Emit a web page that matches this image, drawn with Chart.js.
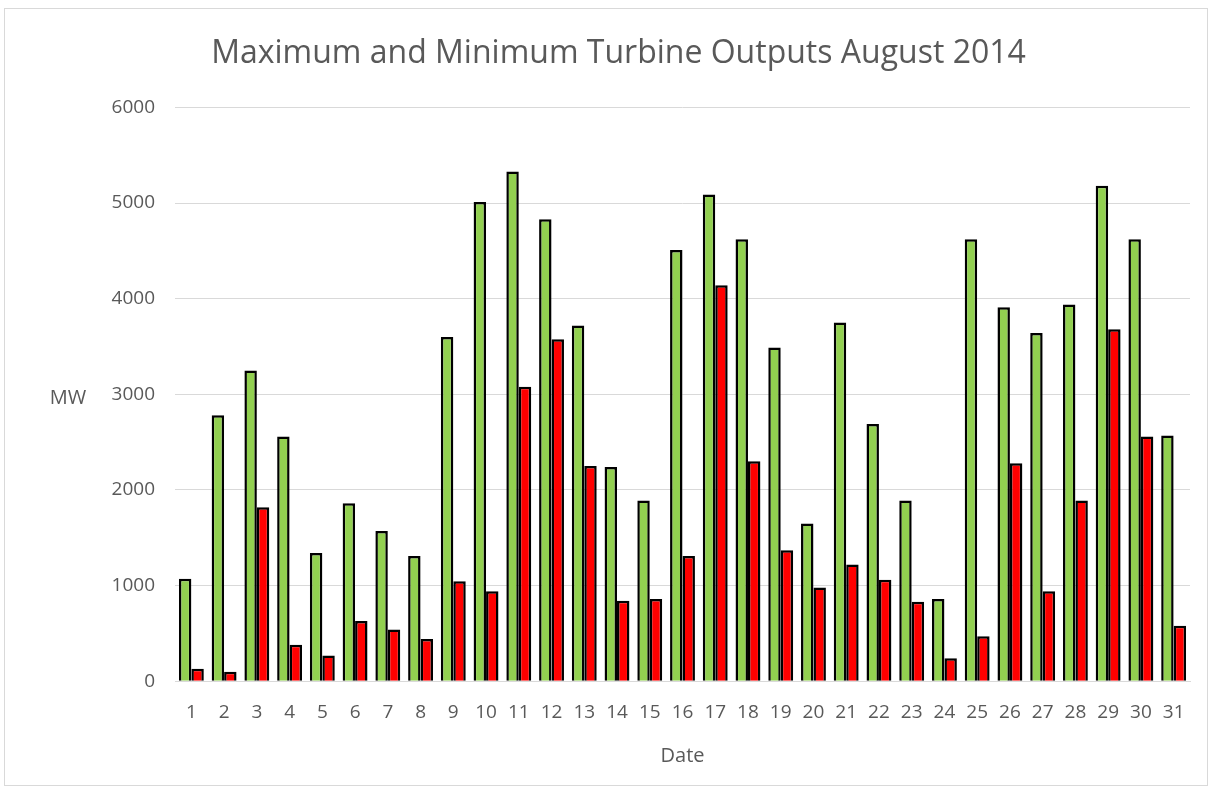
<!DOCTYPE html>
<html>
<head>
<meta charset="utf-8">
<script src="https://cdn.jsdelivr.net/npm/chart.js@4"></script>
<style>
  html, body { margin: 0; padding: 0; background: #fff; }
  #wrap { position: absolute; left: 4px; top: 8px; width: 1204px; height: 778px; border: 1px solid #d9d9d9; box-sizing: border-box; }
  canvas { position: absolute; left: -4px; top: -8px; }
</style>
</head>
<body>
<div id="wrap"><canvas id="chart" width="1213" height="791"></canvas></div>
<script>
const days = Array.from({ length: 31 }, (_, i) => String(i + 1));
const maxOutput = [1070, 2780, 3250, 2560, 1340, 1860, 1570, 1310, 3600, 5010,
                   5330, 4830, 3720, 2240, 1890, 4510, 5090, 4620, 3490, 1650,
                   3750, 2690, 1890, 860, 4620, 3910, 3640, 3940, 5180, 4620, 2570];
const minOutput = [130, 100, 1820, 380, 270, 630, 540, 440, 1045, 940,
                   3080, 3575, 2250, 840, 860, 1310, 4140, 2300, 1370, 980,
                   1220, 1060, 830, 240, 470, 2280, 940, 1890, 3680, 2560, 580];
const yTicks = [0, 1000, 2000, 3000, 4000, 5000, 6000];

const font = "'Open Sans', 'Noto Sans', sans-serif";
const grey = '#595959';

const mwLabel = {
  id: 'mwLabel',
  afterDraw(chart) {
    const { ctx } = chart;
    ctx.save();
    ctx.fillStyle = grey;
    ctx.font = `20px ${font}`;
    ctx.textAlign = 'center';
    ctx.textBaseline = 'middle';
    ctx.fillText('MW', 67, chart.scales.y.getPixelForValue(3000) + 4);
    ctx.restore();
  }
};

// the reference title sits a little right of the canvas centre
const titleShift = {
  id: 'titleShift',
  beforeDraw(chart) { chart.titleBlock.left = 22; chart.titleBlock.right = chart.width; }
};

new Chart(document.getElementById('chart'), {
  type: 'bar',
  data: {
    labels: days,
    datasets: [
      { label: 'Max', data: maxOutput, backgroundColor: '#92D050', borderColor: '#000', borderWidth: 2.5, borderSkipped: 'bottom' },
      { label: 'Min', data: minOutput, backgroundColor: '#FF0000', borderColor: '#000', borderWidth: 2.5, borderSkipped: 'bottom' }
    ]
  },
  options: {
    responsive: false,
    animation: false,
    categoryPercentage: 0.76,
    barPercentage: 1.0,
    layout: { padding: { left: 0, right: 24, top: 0, bottom: 20 } },
    plugins: {
      legend: { display: false },
      tooltip: { enabled: false },
      title: {
        display: true,
        text: 'Maximum and Minimum Turbine Outputs August 2014',
        color: grey,
        font: { family: font, size: 32, weight: 'normal' },
        padding: { top: 34, bottom: 34 }
      }
    },
    scales: {
      x: {
        grid: { display: false },
        border: { display: true, color: '#d9d9d9', width: 1 },
        ticks: { color: grey, font: { family: font, size: 19 }, maxRotation: 0, autoSkip: false, padding: 12 },
        title: { display: true, text: 'Date', color: grey, font: { family: font, size: 20 }, padding: { top: 8 } }
      },
      y: {
        min: 0,
        max: 6000,
        afterBuildTicks(axis) { axis.ticks = yTicks.map(v => ({ value: v })); },
        afterFit(axis) { axis.width = 174; },
        grid: { color: '#d9d9d9', drawTicks: false },
        border: { display: false },
        ticks: { color: grey, font: { family: font, size: 19 }, padding: 20, callback: v => String(v) }
      }
    }
  },
  plugins: [mwLabel, titleShift]
});
</script>
</body>
</html>
